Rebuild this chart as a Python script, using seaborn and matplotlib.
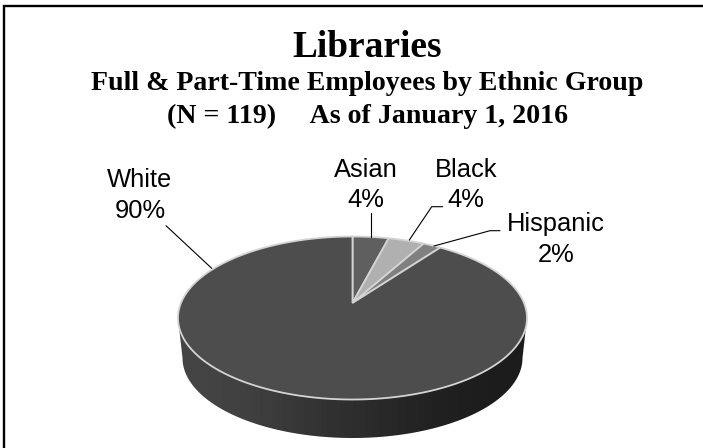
import numpy as np
import matplotlib
matplotlib.use('Agg')
import matplotlib.pyplot as plt
import seaborn as sns
from matplotlib.path import Path
from matplotlib.patches import PathPatch
from matplotlib.transforms import Affine2D, Transform

groups = ['Asian', 'Black', 'Hispanic', 'White']
shares = [4, 4, 2, 90]
slice_colors = ['#5f5f5f', '#b0b0b0', '#808080', '#4d4d4d']
side_greys = [0.27, 0.25, 0.21, 0.18, 0.15, 0.12, 0.11]

title = 'Libraries'
subtitle = ['Full & Part-Time Employees by Ethnic Group',
            '(N = 119)     As of January 1, 2016']

# pie geometry in picture pixels
cx, cy = 352.5, 318
rx, ry = 174.5, 81.5
apex_up = 15   # apex sits above the centre of the ellipse


class TiltTransform(Transform):
    """Projects the unit circle of the pie onto the tilted, perspective disc."""
    input_dims = 2
    output_dims = 2

    def transform_non_affine(self, values):
        xy = np.asarray(values, dtype=float)
        k = apex_up / ry
        a = rx * np.sqrt(1 - k ** 2)
        w = 1 + k * xy[:, 1]
        return np.column_stack([cx + a * xy[:, 0] / w,
                                cy - (ry * xy[:, 1] + apex_up) / w])

    def transform_path_non_affine(self, path):
        # flatten the arcs first, scaled up so they stay smooth
        polys = path.to_polygons(Affine2D().scale(2000), closed_only=True)
        return Path(self.transform(polys[0] / 2000), closed=True)


sns.set_theme(style='white')
fig = plt.figure(figsize=(7.03, 4.48), dpi=100)
ax = fig.add_axes([0, 0, 1, 1])

wedges, _ = ax.pie(shares, colors=slice_colors, startangle=90, counterclock=False,
                   wedgeprops={'edgecolor': '#d4d4d4', 'linewidth': 1.3})
tilt = TiltTransform() + ax.transData
for w in wedges:
    w.set_transform(tilt)
    w.set_zorder(3)

ax.set_aspect('auto')
ax.axis('off')

# side of the disc, shaded left to right
t = np.linspace(0, np.pi, 100)
side_pts = np.column_stack([cx + 170 * np.cos(t), 358 + 80 * np.sin(t)])
side_pts = np.vstack([[rx + cx, cy], side_pts, [cx - rx, cy]])
side_clip = PathPatch(Path(side_pts), transform=ax.transData, fc='none', ec='none')
ax.add_patch(side_clip)
im = ax.imshow([side_greys], cmap='gray', vmin=0, vmax=1, aspect='auto', interpolation='bicubic',
               extent=(cx - rx, cx + rx, 440, 318), zorder=2)
im.set_clip_path(side_clip)
ax.set_xlim(0, 703)
ax.set_ylim(448, 0)

# frame: only the left and top edges are inside the picture
ax.plot([3.5, 3.5, 703], [448, 6, 6], color='black', lw=1.7, zorder=5, solid_joinstyle='miter')

ax.text(367, 57, title, family='Liberation Serif', weight='bold', fontsize=26.9,
        ha='center', va='baseline', color='black')
ax.text(367.5, 90, subtitle[0], family='Liberation Serif', weight='bold', fontsize=20.1,
        ha='center', va='baseline', color='black')
ax.text(368, 123, subtitle[1], family='Liberation Serif', weight='bold', fontsize=20.1,
        ha='center', va='baseline', color='black')

# label centre and baselines of its two rows
label_pos = [(366, 177, 207), (466, 177, 207), (556, 231, 262), (140, 187, 218)]
for g, s, (lx, y1, y2) in zip(groups, shares, label_pos):
    ax.text(lx, y1, g, family='Liberation Sans', fontsize=18.4, ha='center', va='baseline', color='black')
    ax.text(lx, y2, f'{s}%', family='Liberation Sans', fontsize=18.4, ha='center', va='baseline', color='black')

leaders = [[(370.7, 213), (370.7, 237)],
           [(442.7, 206.7), (431.7, 206.7), (409.3, 240)],
           [(500, 230.7), (490, 230.7), (434, 246)],
           [(166, 225.7), (211.7, 268.3)]]
for pts in leaders:
    xs, ys = zip(*pts)
    ax.plot(xs, ys, color='black', lw=0.8, zorder=4)

fig.savefig('out.png', dpi=100, facecolor='white')
